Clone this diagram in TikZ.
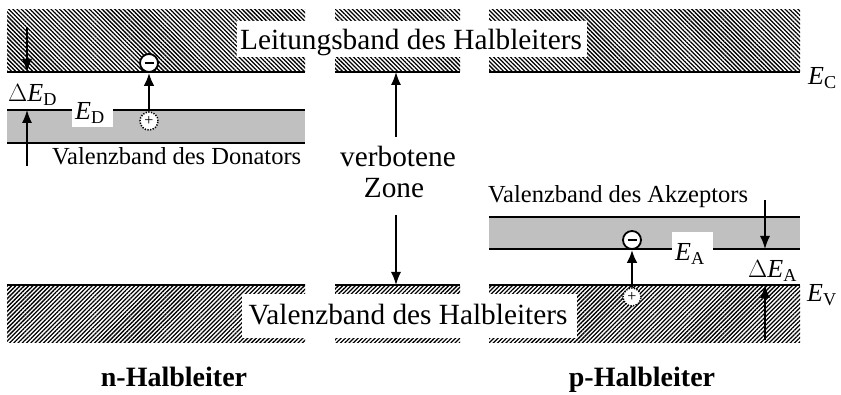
\documentclass[tikz,border=0pt]{standalone}
\usepackage{fontspec}
\setmainfont{Liberation Serif}
\usetikzlibrary{patterns.meta,arrows.meta}
\definecolor{bandgray}{RGB}{192,192,192}
% energy level symbol: italic E with upright index
\newcommand\enlevel[1]{{\itshape E}\textsubscript{#1}}

\begin{document}
\begin{tikzpicture}[x=1pt,y=-1pt,
  chatch/.style={pattern={Lines[angle=-45,distance=3pt,line width=1.3pt]}},
  vhatch/.style={pattern={Lines[angle=45,distance=3pt,line width=1.3pt]}},
  edgeline/.style={line width=2.8pt},
  bandline/.style={line width=2pt},
  thinarrow/.style={line width=1.4pt,-{Latex[length=13pt,width=10pt]}},
  eltarrow/.style={line width=2.7pt,-{Latex[length=13pt,width=11pt]}},
  electron/.style={circle,draw,line width=1.8pt,fill=white,minimum size=18pt,inner sep=0pt},
  hole/.style={circle,draw,line width=1.5pt,dash pattern=on 1.3pt off 1.4pt,fill=white,minimum size=18pt,inner sep=0pt},
  biglabel/.style={inner sep=0pt,font=\fontsize{29.3}{31}\selectfont},
  smalllabel/.style={inner sep=0pt,font=\fontsize{24.5}{26}\selectfont},
  levellabel/.style={inner sep=0pt,font=\fontsize{26}{28}\selectfont},
  titlelabel/.style={inner sep=0pt,font=\fontsize{28}{30}\selectfont\bfseries},
]
\useasboundingbox (0,0) rectangle (841,395);

% conduction band (hatched blocks with edge E_C)
\fill[chatch] (7,10) rectangle (305,72);
\fill[chatch] (335,10) rectangle (460,72);
\fill[chatch] (489,10) rectangle (800,72);
\fill[white] (237,21) rectangle (587,57);
\draw[edgeline] (7,72) -- (305,72);
\draw[edgeline] (335,72) -- (460,72);
\draw[edgeline] (489,72) -- (800,72);
\node[biglabel,anchor=base] (lb) at (411,50) {Leitungsband des Halbleiters};
\node[levellabel,anchor=base west] (ec) at (808,85) {\enlevel{C}};

% valence band (hatched blocks with edge E_V)
\fill[vhatch] (7,285) rectangle (305,343);
\fill[vhatch] (335,285) rectangle (460,343);
\fill[vhatch] (489,285) rectangle (800,343);
\fill[white] (242,294) rectangle (577,338);
\draw[edgeline] (7,285) -- (305,285);
\draw[edgeline] (335,285) -- (460,285);
\draw[edgeline] (489,285) -- (800,285);
\node[biglabel,anchor=base] (vb) at (408,325) {Valenzband des Halbleiters};
\node[levellabel,anchor=base west] (ev) at (807,302) {\enlevel{V}};

% donor band
\fill[bandgray] (7,110) rectangle (305,143);
\draw[bandline] (7,110) -- (305,110);
\draw[bandline] (7,143) -- (305,143);
\fill[white] (72,108) rectangle (113,127);
\node[levellabel,anchor=base west] (ed) at (75,120) {\enlevel{D}};
\node[levellabel,anchor=base west] (ded) at (8,102) {$\Delta$\enlevel{D}};
\node[smalllabel,anchor=base west] (vd) at (52,165) {Valenzband des Donators};

% acceptor band
\fill[bandgray] (489,217) rectangle (800,249);
\draw[bandline] (489,217) -- (800,217);
\draw[bandline] (489,249) -- (800,249);
\fill[white] (672,232) rectangle (713,266);
\node[levellabel,anchor=base west] (ea) at (675,261) {\enlevel{A}};
\node[levellabel,anchor=base west] (dea) at (748,278) {$\Delta$\enlevel{A}};
\node[smalllabel,anchor=base west] (va) at (488,203) {Valenzband des Akzeptors};

% forbidden zone
\node[biglabel,anchor=base] (vz1) at (398,167) {verbotene};
\node[biglabel,anchor=base] (vz2) at (394,198) {Zone};
\coordinate (vztop) at (396,137);
\coordinate (vzbot) at (396,215);
\coordinate (vzc) at (396,72);
\coordinate (vzv) at (396,285);
\draw[thinarrow] (vztop) -- (vzc);
\draw[thinarrow] (vzbot) -- (vzv);

% donor ionisation energy
\coordinate (dd1) at (27,27);
\coordinate (dd2) at (27,72);
\coordinate (dd3) at (27,166);
\coordinate (dd4) at (27,110);
\draw[thinarrow] (dd1) -- (dd2);
\draw[thinarrow] (dd3) -- (dd4);

% acceptor ionisation energy
\coordinate (da1) at (765,200);
\coordinate (da2) at (765,249);
\coordinate (da3) at (765,340);
\coordinate (da4) at (765,285);
\draw[thinarrow] (da1) -- (da2);
\draw[thinarrow] (da3) -- (da4);

% electron transitions
\node[hole] (h1) at (149,121) {\fontsize{16}{16}\selectfont +};
\node[electron] (e1) at (149,63) {\rule{9pt}{2pt}};
\draw[eltarrow] (h1) -- (e1);
\node[hole] (h2) at (632,297) {\fontsize{16}{16}\selectfont +};
\node[electron] (e2) at (632,240) {\rule{9pt}{2pt}};
\draw[eltarrow] (h2) -- (e2);

% titles
\node[titlelabel,anchor=base] (nh) at (174,386) {n-Halbleiter};
\node[titlelabel,anchor=base] (ph) at (642,386) {p-Halbleiter};
\end{tikzpicture}
\end{document}
